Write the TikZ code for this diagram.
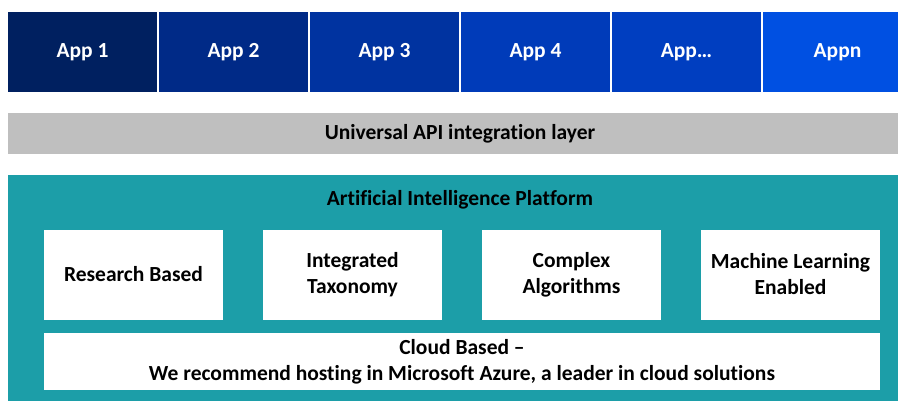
\documentclass[tikz,border=0pt]{standalone}
\usepackage{fontspec}
\setmainfont{Carlito}[Ligatures=NoCommon]
\usetikzlibrary{positioning}

\definecolor{appA}{RGB}{0,32,96}
\definecolor{appB}{RGB}{0,42,135}
\definecolor{appC}{RGB}{0,51,160}
\definecolor{appD}{RGB}{0,59,185}
\definecolor{appE}{RGB}{0,62,192}
\definecolor{appF}{RGB}{0,80,226}
\definecolor{apigray}{RGB}{191,191,191}
\definecolor{platteal}{RGB}{28,158,168}

\begin{document}
\begin{tikzpicture}
    [x=1pt, y=-1pt,
     font=\fontsize{21.5}{26}\selectfont\bfseries,
     app/.style={rectangle, inner sep=0pt, text=white,
       minimum width=149pt, minimum height=80pt},
     layer/.style={rectangle, inner sep=0pt, align=center},
     feature/.style={rectangle, fill=white, inner sep=0pt, align=center,
       minimum width=179pt, minimum height=90pt}]
    \def \appstep {151}
    \def \featstep {219}

    \useasboundingbox (0,0) rectangle (898,400);

    % row of applications
    \foreach \s/\lbl/\col in {1/App 1/appA, 2/App 2/appB, 3/App 3/appC,
      4/App 4/appD, 5/App…/appE, 6/Appn/appF}
    {
      \node[app, fill=\col] (app\s) at ({82.5 + \appstep * (\s - 1)}, 52) {\lbl};
    }

    % integration layer
    \node[layer, fill=apigray, minimum width=904pt, minimum height=41pt]
      (api) at (460, 133.5) {Universal API integration layer};

    % platform
    \node[layer, fill=platteal, minimum width=908pt, minimum height=240pt]
      (platform) at (462, 295) {};
    \node (title) at (460, 200) {Artificial Intelligence Platform};

    \foreach \s/\lbl in {1/Research Based, 2/Integrated\\Taxonomy,
      3/Complex\\Algorithms, 4/Machine Learning\\Enabled}
    {
      \node[feature] (feat\s) at ({133.5 + \featstep * (\s - 1)}, 274.5) {\lbl};
    }

    \node[feature, minimum width=836pt, minimum height=57pt] (cloud) at (462, 361.5)
      {Cloud Based --\\We recommend hosting in Microsoft Azure, a leader in cloud solutions};
  \end{tikzpicture}
\end{document}
